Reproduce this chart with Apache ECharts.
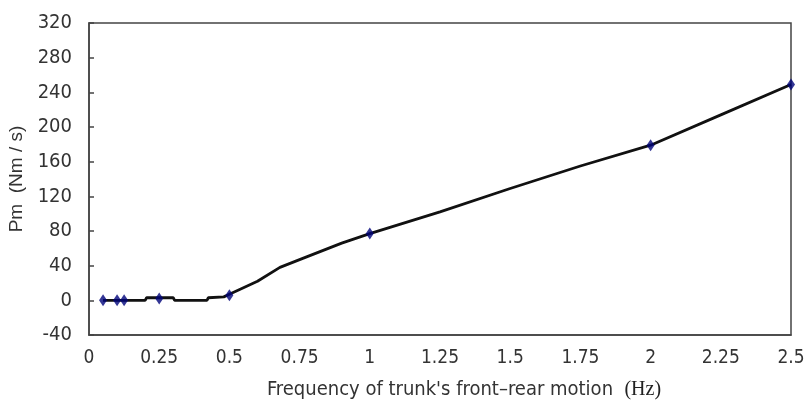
<!DOCTYPE html>
<html><head><meta charset="utf-8">
<script src="https://cdn.jsdelivr.net/npm/echarts@6/dist/echarts.min.js"></script>
<style>html,body{margin:0;padding:0;background:#fff}#c{width:805px;height:401px}</style>
</head><body><div id="c"></div>
<script>
// measured points (diamond markers)
const pointX = [0.05, 0.1, 0.125, 0.25, 0.5, 1, 2, 2.5];
const pointY = [0, 0, 0, 2, 6, 77, 179, 249];
// traced curve through the points
const curveX = [0.05, 0.2, 0.205, 0.3, 0.305, 0.42, 0.425, 0.48, 0.5, 0.6, 0.68, 0.75, 0.9, 1, 1.25, 1.5, 1.75, 2, 2.25, 2.5];
const curveY = [0, 0, 3, 3, 0, 0, 3, 4, 7, 22, 38, 47, 66, 77, 102, 129, 155, 179, 214, 249];
const xTicks = [0, 0.25, 0.5, 0.75, 1, 1.25, 1.5, 1.75, 2, 2.25, 2.5];
const yTicks = [-40, 0, 40, 80, 120, 160, 200, 240, 280, 320];

const FONT = '"DejaVu Sans Condensed"';
const chart = echarts.init(document.getElementById('c'), null, {renderer: 'canvas'});
chart.setOption({
  animation: false,
  grid: {left: 89, top: 23, right: 14, bottom: 66, outerBoundsMode: 'none', containLabel: false,
         show: true, borderColor: '#444', borderWidth: 1.5, backgroundColor: 'transparent'},
  xAxis: {
    type: 'value', min: xTicks[0], max: xTicks[xTicks.length - 1], interval: 0.25,
    axisLine: {show: true, onZero: false, lineStyle: {color: '#444', width: 1.5}},
    axisTick: {show: false}, splitLine: {show: false},
    axisLabel: {margin: 14, fontFamily: FONT, fontSize: 19, color: '#333',
      formatter: v => String(Math.round(v * 100) / 100)},
    name: '{a|Frequency of trunk\'s front\u2013rear motion  }{b|(Hz)}',
    nameLocation: 'middle', nameGap: 45,
    nameTextStyle: {padding: [0, 0, 0, 48], rich: {
      a: {fontFamily: FONT, fontSize: 20, color: '#333'},
      b: {fontFamily: 'Liberation Serif', fontSize: 20, color: '#222'}
    }}
  },
  yAxis: {
    type: 'value', min: yTicks[0], max: yTicks[yTicks.length - 1], interval: 40,
    axisLine: {show: true, lineStyle: {color: '#444', width: 1.5}},
    axisTick: {show: true, inside: true, length: 5, lineStyle: {color: '#444', width: 1.5}},
    splitLine: {show: false},
    axisLabel: {margin: 17, fontFamily: FONT, fontSize: 20, color: '#333'},
    name: 'Pm  (Nm / s)', nameLocation: 'middle', nameGap: 62, nameRotate: 90,
    nameTextStyle: {fontFamily: 'Liberation Sans', fontSize: 19, color: '#333'}
  },
  series: [
    {type: 'line', data: curveX.map((x, i) => [x, curveY[i]]), showSymbol: false, smooth: false,
     lineStyle: {color: '#111', width: 2.8}, z: 2},
    {type: 'scatter', data: pointX.map((x, i) => [x, pointY[i]]), symbol: 'diamond', symbolSize: [8, 12],
     itemStyle: {color: '#00047a'}, z: 3}
  ]
});
</script></body></html>
